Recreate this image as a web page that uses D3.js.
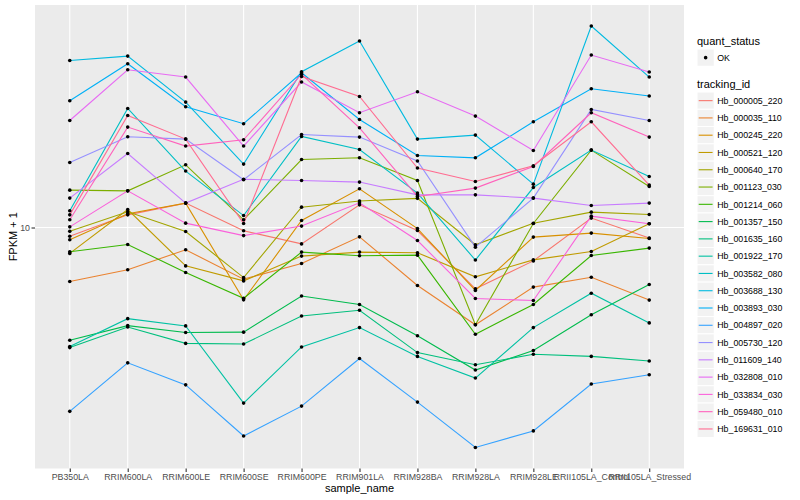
<!DOCTYPE html>
<html>
<head>
<meta charset="utf-8">
<script src="https://cdn.jsdelivr.net/npm/d3@7"></script>
<style>
  body { margin: 0; background: #ffffff; }
  text { font-family: "Liberation Sans", Arial, Helvetica, sans-serif; }
</style>
</head>
<body>
<svg id="chart" width="800" height="500"></svg>
<script>
// ---------------- data ----------------
const samples = ["PB350LA", "RRIM600LA", "RRIM600LE", "RRIM600SE", "RRIM600PE", "RRIM901LA",
  "RRIM928BA", "RRIM928LA", "RRIM928LE", "RRII105LA_Control", "RRII105LA_Stressed"];

const trackingIds = ["Hb_000005_220", "Hb_000035_110", "Hb_000245_220", "Hb_000521_120", "Hb_000640_170",
  "Hb_001123_030", "Hb_001214_060", "Hb_001357_150", "Hb_001635_160", "Hb_001922_170",
  "Hb_003582_080", "Hb_003688_130", "Hb_003893_030", "Hb_004897_020", "Hb_005730_120",
  "Hb_011609_140", "Hb_032808_010", "Hb_033834_030", "Hb_059480_010", "Hb_169631_010"];

const trackingColors = ["#F8766D", "#EA8331", "#D89000", "#C09B00", "#A3A500",
  "#7CAE00", "#39B600", "#00BB4E", "#00BF7D", "#00C1A3",
  "#00BFC4", "#00BAE0", "#00B0F6", "#35A2FF", "#9590FF",
  "#C77CFF", "#E76BF3", "#FA62DB", "#FF62BC", "#FF6C91"];

const quantStatus = ["OK"];
const yTicks = [10];

// FPKM + 1 per sample (same order as samples)
const hb_000005_220 = [9.35, 11.02, 12.06, 9.75, 8.82, 11.90, 9.77, 6.25, 7.74, 10.75, 9.22];
const hb_000035_110 = [6.61, 7.23, 8.43, 6.73, 7.59, 9.31, 6.41, 4.74, 6.33, 6.83, 5.73];
const hb_000245_220 = [9.10, 11.11, 12.06, 5.74, 10.55, 13.46, 9.92, 6.17, 9.29, 9.58, 9.19];
const hb_000521_120 = [8.20, 11.48, 7.45, 6.64, 8.03, 8.28, 8.24, 6.85, 7.80, 8.32, 10.29];
const hb_000640_170 = [9.71, 11.28, 9.70, 6.81, 11.69, 12.25, 12.51, 8.76, 10.33, 11.25, 11.05];
const hb_001123_030 = [13.32, 13.25, 16.18, 10.61, 16.85, 17.07, 14.34, 4.74, 10.31, 18.11, 13.70];
const hb_001214_060 = [8.30, 8.78, 7.08, 5.81, 8.28, 8.05, 8.09, 4.41, 5.54, 8.07, 8.54];
const hb_001357_150 = [4.21, 4.71, 4.47, 4.48, 5.91, 5.54, 4.36, 3.35, 3.89, 5.12, 6.46];
const hb_001635_160 = [3.98, 4.66, 4.11, 4.09, 5.07, 5.30, 3.83, 3.49, 3.78, 3.72, 3.59];
const hb_001922_170 = [4.01, 4.97, 4.70, 2.60, 4.00, 4.64, 3.72, 3.15, 4.64, 6.04, 4.81];
const hb_003582_080 = [11.37, 24.93, 15.42, 10.96, 20.11, 18.20, 13.02, 7.79, 13.59, 18.11, 14.79];
const hb_003688_130 = [36.03, 37.26, 26.18, 16.27, 33.04, 41.81, 19.71, 20.32, 13.95, 46.91, 31.72];
const hb_003893_030 = [26.45, 35.13, 25.25, 22.17, 32.78, 22.91, 17.38, 17.07, 22.51, 29.00, 27.42];
const hb_004897_020 = [2.44, 3.54, 2.99, 2.02, 2.54, 3.66, 2.62, 1.85, 2.10, 3.01, 3.23];
const hb_005730_120 = [16.47, 20.06, 19.71, 14.42, 20.42, 20.01, 16.65, 8.60, 12.53, 24.74, 22.73];
const hb_011609_140 = [12.53, 17.65, 12.06, 14.48, 14.34, 14.17, 12.85, 12.85, 12.53, 11.84, 12.06];
const hb_032808_010 = [22.73, 33.55, 31.72, 18.68, 30.53, 24.12, 28.34, 23.51, 18.06, 37.56, 32.96];
const hb_033834_030 = [10.05, 13.25, 10.34, 9.40, 10.11, 12.09, 9.05, 5.80, 5.71, 10.91, 10.29];
const hb_059480_010 = [10.61, 21.61, 18.68, 19.60, 32.41, 21.49, 12.69, 13.53, 15.97, 24.12, 20.01];
const hb_169631_010 = [11.02, 23.62, 19.71, 10.31, 31.87, 27.34, 15.78, 14.23, 16.06, 22.51, 13.85];

const seriesValues = [hb_000005_220, hb_000035_110, hb_000245_220, hb_000521_120, hb_000640_170,
  hb_001123_030, hb_001214_060, hb_001357_150, hb_001635_160, hb_001922_170,
  hb_003582_080, hb_003688_130, hb_003893_030, hb_004897_020, hb_005730_120,
  hb_011609_140, hb_032808_010, hb_033834_030, hb_059480_010, hb_169631_010];

// ---------------- build ----------------
const series = trackingIds.map((id, i) => ({
  id, color: trackingColors[i],
  points: samples.map((s, j) => ({ sample: s, value: seriesValues[i][j], status: "OK" }))
}));

const svg = d3.select("#chart");
const panel = { l: 35, r: 684, t: 5, b: 468.5 };

const x = d3.scalePoint().domain(samples).range([panel.l, panel.r]).padding(0.6);

const allVals = seriesValues.flat();
const lo = Math.log10(d3.min(allVals)), hi = Math.log10(d3.max(allVals));
const pad = (hi - lo) * 0.05;
const y = d3.scaleLog().domain([Math.pow(10, lo - pad), Math.pow(10, hi + pad)]).range([panel.b, panel.t]);

// panel
svg.append("rect").attr("x", panel.l).attr("y", panel.t)
  .attr("width", panel.r - panel.l).attr("height", panel.b - panel.t).attr("fill", "#EBEBEB");

// grid
const grid = svg.append("g");
grid.selectAll("line.gy").data(yTicks).join("line")
  .attr("x1", panel.l).attr("x2", panel.r)
  .attr("y1", d => y(d)).attr("y2", d => y(d))
  .attr("stroke", "#ffffff").attr("stroke-width", 1.1);
grid.selectAll("line.gx").data(samples).join("line")
  .attr("x1", d => x(d)).attr("x2", d => x(d))
  .attr("y1", panel.t).attr("y2", panel.b)
  .attr("stroke", "#ffffff").attr("stroke-width", 1.1);

// lines
const line = d3.line().x(d => x(d.sample)).y(d => y(d.value));
svg.append("g").selectAll("path").data(series).join("path")
  .attr("d", d => line(d.points))
  .attr("fill", "none").attr("stroke", d => d.color).attr("stroke-width", 1.1);

// points
svg.append("g").selectAll("g").data(series).join("g")
  .selectAll("circle").data(d => d.points).join("circle")
  .attr("cx", d => x(d.sample)).attr("cy", d => y(d.value)).attr("r", 1.8).attr("fill", "#000000");

// axes
const xAxis = svg.append("g").attr("transform", `translate(0,${panel.b})`)
  .call(d3.axisBottom(x).tickSize(3.5).tickPadding(1.5));
xAxis.select(".domain").remove();
xAxis.selectAll(".tick line").attr("stroke", "#333333").attr("stroke-width", 1.1);
xAxis.selectAll(".tick text").attr("fill", "#4D4D4D").attr("font-size", "8.8px")
  .attr("font-family", "Liberation Sans, Arial, sans-serif");

const yAxis = svg.append("g").attr("transform", `translate(${panel.l},0)`)
  .call(d3.axisLeft(y).tickValues(yTicks).tickFormat(d3.format("d")).tickSize(3.5).tickPadding(1.5));
yAxis.select(".domain").remove();
yAxis.selectAll(".tick line").attr("stroke", "#333333").attr("stroke-width", 1.1);
yAxis.selectAll(".tick text").attr("fill", "#4D4D4D").attr("font-size", "8.8px")
  .attr("font-family", "Liberation Sans, Arial, sans-serif");

// axis titles
svg.append("text").attr("x", (panel.l + panel.r) / 2).attr("y", 492)
  .attr("text-anchor", "middle").attr("font-size", "11px").attr("fill", "#000").text("sample_name");
svg.append("text").attr("transform", `translate(17,${(panel.t + panel.b) / 2}) rotate(-90)`)
  .attr("text-anchor", "middle").attr("font-size", "11px").attr("fill", "#000").text("FPKM + 1");

// legends
const lg = svg.append("g");
const keyX = 697, keyS = 17.28;
lg.append("text").attr("x", keyX).attr("y", 45).attr("font-size", "11px").attr("fill", "#000").text("quant_status");
const qs = lg.selectAll("g.qs").data(quantStatus).join("g").attr("transform", (d, i) => `translate(${keyX},${49 + i * keyS})`);
qs.append("rect").attr("width", keyS).attr("height", keyS).attr("fill", "#F2F2F2").attr("stroke", "#ffffff");
qs.append("circle").attr("cx", keyS / 2).attr("cy", keyS / 2).attr("r", 1.8).attr("fill", "#000");
qs.append("text").attr("x", keyS + 3).attr("y", keyS / 2 + 3.2).attr("font-size", "8.8px").attr("fill", "#000").text(d => d);

lg.append("text").attr("x", keyX).attr("y", 88).attr("font-size", "11px").attr("fill", "#000").text("tracking_id");
const ti = lg.selectAll("g.ti").data(series).join("g")
  .attr("transform", (d, i) => `translate(${keyX},${92 + i * keyS})`);
ti.append("rect").attr("width", keyS).attr("height", keyS).attr("fill", "#F2F2F2").attr("stroke", "#ffffff");
ti.append("line").attr("x1", 1.7).attr("x2", keyS - 1.7).attr("y1", keyS / 2).attr("y2", keyS / 2)
  .attr("stroke", d => d.color).attr("stroke-width", 1.1);
ti.append("text").attr("x", keyS + 3).attr("y", keyS / 2 + 3.2).attr("font-size", "8.8px").attr("fill", "#000").text(d => d.id);
</script>
</body>
</html>
